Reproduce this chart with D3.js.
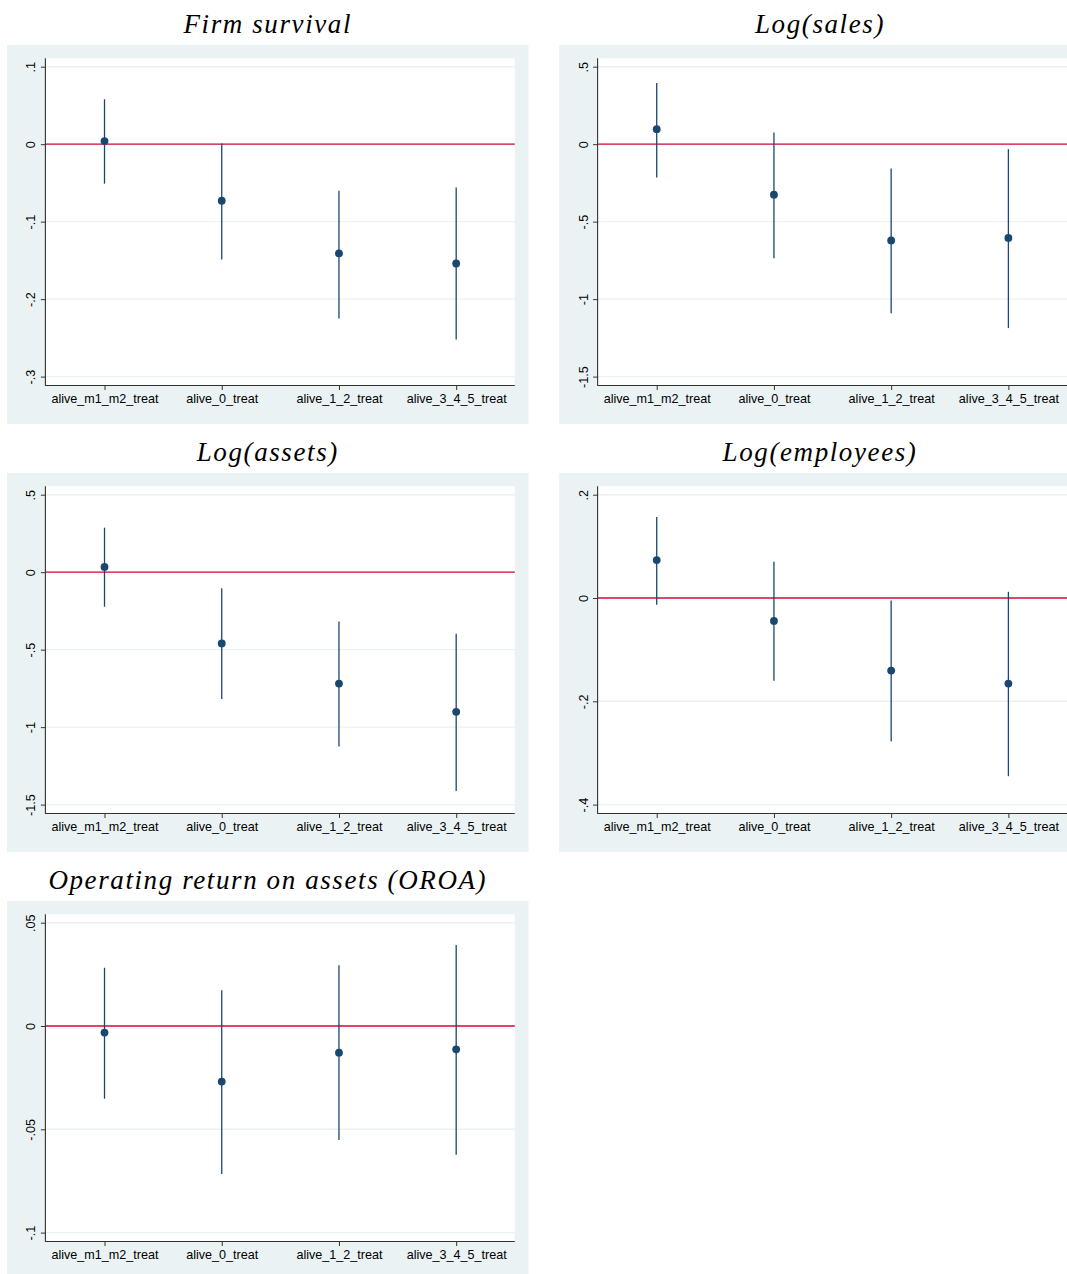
<!DOCTYPE html>
<html><head><meta charset="utf-8">
<script src="https://cdn.jsdelivr.net/npm/d3@7"></script>
<style>
html,body{margin:0;padding:0;background:#fff;}
svg{display:block;}
</style></head>
<body>
<svg id="chart" width="1067" height="1274"></svg>
<script>
// ---- data ----
const categories = ["alive_m1_m2_treat", "alive_0_treat", "alive_1_2_treat", "alive_3_4_5_treat"];

const titles = ["Firm survival", "Log(sales)", "Log(assets)", "Log(employees)", "Operating return on assets (OROA)"];

const survivalCoef  = [0.004, -0.073, -0.141, -0.154];
const survivalLow   = [-0.051, -0.149, -0.225, -0.252];
const survivalHigh  = [0.058, 0.001, -0.060, -0.056];

const salesCoef  = [0.097, -0.326, -0.621, -0.605];
const salesLow   = [-0.215, -0.737, -1.091, -1.187];
const salesHigh  = [0.395, 0.075, -0.157, -0.032];

const assetsCoef = [0.034, -0.460, -0.719, -0.901];
const assetsLow  = [-0.223, -0.818, -1.125, -1.413];
const assetsHigh = [0.287, -0.103, -0.318, -0.397];

const emplCoef = [0.0734, -0.0444, -0.1405, -0.1656];
const emplLow  = [-0.013, -0.160, -0.278, -0.345];
const emplHigh = [0.157, 0.070, -0.0046, 0.012];

const oroaCoef = [-0.0032, -0.0269, -0.0129, -0.0113];
const oroaLow  = [-0.0352, -0.0716, -0.0552, -0.0623];
const oroaHigh = [0.0282, 0.0173, 0.0294, 0.0392];

const survivalTicks = [0.1, 0, -0.1, -0.2, -0.3];
const survivalTickLabels = [".1", "0", "-.1", "-.2", "-.3"];
const salesTicks = [0.5, 0, -0.5, -1, -1.5];
const salesTickLabels = [".5", "0", "-.5", "-1", "-1.5"];
const assetsTicks = [0.5, 0, -0.5, -1, -1.5];
const assetsTickLabels = [".5", "0", "-.5", "-1", "-1.5"];
const emplTicks = [0.2, 0, -0.2, -0.4];
const emplTickLabels = [".2", "0", "-.2", "-.4"];
const oroaTicks = [0.05, 0, -0.05, -0.1];
const oroaTickLabels = [".05", "0", "-.05", "-.1"];

// ---- layout ----
const panels = [
  {title: titles[0], coef: survivalCoef, lo: survivalLow, hi: survivalHigh, ticks: survivalTicks, labels: survivalTickLabels, col: 0, row: 0},
  {title: titles[1], coef: salesCoef, lo: salesLow, hi: salesHigh, ticks: salesTicks, labels: salesTickLabels, col: 1, row: 0},
  {title: titles[2], coef: assetsCoef, lo: assetsLow, hi: assetsHigh, ticks: assetsTicks, labels: assetsTickLabels, col: 0, row: 1},
  {title: titles[3], coef: emplCoef, lo: emplLow, hi: emplHigh, ticks: emplTicks, labels: emplTickLabels, col: 1, row: 1},
  {title: titles[4], coef: oroaCoef, lo: oroaLow, hi: oroaHigh, ticks: oroaTicks, labels: oroaTickLabels, col: 0, row: 2}
];

const colX = [7, 559.2];          // gray bg left
const rowY = [45, 473, 901];      // gray bg top
const bgW = 521.6, bgH = 379;
const plotOffX = 38.9, plotW = 468.9;
const plotOffY = 13.3, plotH = 326.7;
const pad = 8.4;

const BG = "#eaf2f3", NAVY = "#1a476f", RED = "#d40b3a";

const svg = d3.select("#chart");

panels.forEach(p => {
  const gx = colX[p.col], gy = rowY[p.row];
  const g = svg.append("g");

  g.append("rect").attr("x", gx).attr("y", gy).attr("width", bgW).attr("height", bgH).attr("fill", BG);

  const px0 = gx + plotOffX, py0 = gy + plotOffY;
  g.append("rect").attr("x", px0).attr("y", py0).attr("width", plotW).attr("height", plotH).attr("fill", "#fff");

  // title
  g.append("text")
    .attr("x", gx + bgW / 2).attr("y", gy - 12)
    .attr("text-anchor", "middle")
    .attr("font-family", "'Liberation Serif', 'DejaVu Serif', serif")
    .attr("font-style", "italic")
    .attr("font-size", 27)
    .attr("letter-spacing", 1.6)
    .attr("fill", "#000")
    .text(p.title);

  const x = d3.scalePoint().domain(categories).range([px0, px0 + plotW]).padding(0.5);
  const tmax = d3.max(p.ticks), tmin = d3.min(p.ticks);
  const y = d3.scaleLinear().domain([tmin, tmax]).range([py0 + plotH - pad, py0 + pad]);

  // gridlines
  g.append("g").selectAll("line").data(p.ticks).join("line")
    .attr("x1", px0).attr("x2", px0 + plotW)
    .attr("y1", d => y(d)).attr("y2", d => y(d))
    .attr("stroke", BG).attr("stroke-width", 1.4);

  // zero line
  g.append("line")
    .attr("x1", px0).attr("x2", px0 + plotW)
    .attr("y1", y(0)).attr("y2", y(0))
    .attr("stroke", RED).attr("stroke-width", 1.3);

  // CI lines
  g.append("g").selectAll("line").data(categories).join("line")
    .attr("x1", d => x(d)).attr("x2", d => x(d))
    .attr("y1", (d, i) => y(p.lo[i])).attr("y2", (d, i) => y(p.hi[i]))
    .attr("stroke", NAVY).attr("stroke-width", 1.3);

  // points
  g.append("g").selectAll("circle").data(categories).join("circle")
    .attr("cx", d => x(d)).attr("cy", (d, i) => y(p.coef[i]))
    .attr("r", 3.9).attr("fill", NAVY);

  // y axis
  const yAxis = d3.axisLeft(y).tickValues(p.ticks)
    .tickFormat((d, i) => p.labels[i]).tickSize(5).tickPadding(5);
  const ya = g.append("g").attr("transform", `translate(${px0},0)`).call(yAxis);
  ya.select(".domain").attr("d", `M-0.5,${py0}V${py0 + plotH}`).attr("stroke", "#333").attr("stroke-width", 1.1);
  ya.selectAll(".tick line").attr("stroke", "#333").attr("stroke-width", 1);
  ya.selectAll(".tick text")
    .attr("font-family", "'Liberation Sans', Arial, sans-serif")
    .attr("font-size", 12.6).attr("fill", "#000")
    .attr("text-anchor", "middle")
    .attr("transform", "rotate(-90)")
    .attr("x", 0).attr("dy", 0)
    .attr("y", -10.5);

  // x axis
  const xAxis = d3.axisBottom(x).tickSize(5).tickPadding(4);
  const xa = g.append("g").attr("transform", `translate(0,${py0 + plotH})`).call(xAxis);
  xa.select(".domain").attr("d", `M${px0 - 1},0.5H${px0 + plotW}`).attr("stroke", "#333").attr("stroke-width", 1.1);
  xa.selectAll(".tick line").attr("stroke", "#333").attr("stroke-width", 1);
  xa.selectAll(".tick text")
    .attr("font-family", "'Liberation Sans', Arial, sans-serif")
    .attr("font-size", 12.6).attr("fill", "#000")
    .attr("dy", 0).attr("y", 17.5);
});
</script>
</body></html>
